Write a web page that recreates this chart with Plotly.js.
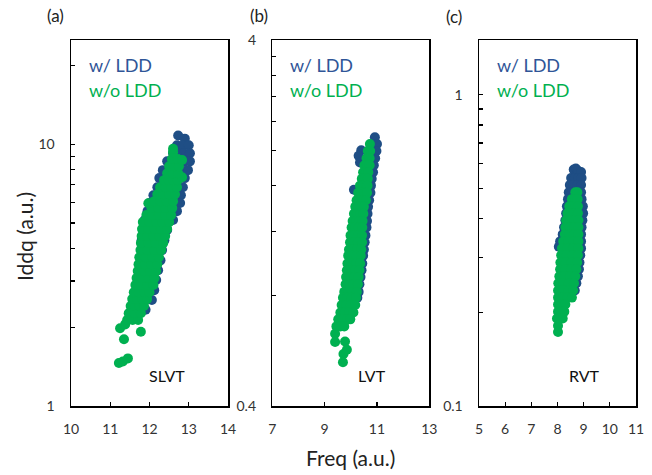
<!DOCTYPE html>
<html>
<head>
<meta charset="utf-8">
<script src="https://cdn.plot.ly/plotly-2.35.2.min.js"></script>
<style>html,body{margin:0;padding:0;background:#fff}#chart{width:652px;height:475px}</style>
</head>
<body>
<div id="chart"></div>
<script>
// Panel (a) SLVT — w/ LDD (blue)
const aBlueX = [12.73,12.9, 12.7,12.85,13.0, 12.6,12.74,12.88,13.03, 12.45,12.6,12.75,12.9,13.03,
  12.34,12.5,12.66,12.82,12.98, 12.25,12.41,12.57,12.73,12.9, 12.2,12.36,12.52,12.68,12.85,
  12.1,12.28,12.45,12.62,12.8, 12.0,12.2,12.4,12.59,12.78, 11.95,12.15,12.35,12.52,12.7,
  11.88,12.1,12.35,12.6, 11.83,12.05,12.45, 11.8,12.05,12.38, 11.8,12.05,12.32, 11.78,12.0,12.28,
  11.75,12.0,12.22, 11.72,11.95,12.17, 11.7,11.9,12.12, 11.68,11.88,12.06, 11.68,11.9];
const aBlueY = [10.8,10.5, 9.9,9.9,9.9, 9.24,9.24,9.24,9.24, 8.6,8.6,8.6,8.6,8.6,
  7.96,7.96,7.96,7.96,7.96, 7.42,7.42,7.42,7.42,7.42, 6.85,6.85,6.85,6.85,6.85,
  6.38,6.38,6.38,6.38,6.38, 5.96,5.96,5.96,5.96,5.96, 5.55,5.55,5.55,5.55,5.55,
  5.13,5.13,5.13,5.13, 4.7,4.7,4.7, 4.3,4.3,4.3, 3.94,3.94,3.94, 3.6,3.6,3.6,
  3.3,3.3,3.3, 3.03,3.03,3.03, 2.77,2.77,2.77, 2.54,2.54,2.54, 2.33,2.33];
// Panel (a) SLVT — w/o LDD (green)
const aGreenX = [11.22,11.32,11.45, 11.35,11.25,11.78,11.38,
  11.43,11.57,11.71, 11.47,11.62,11.78, 11.52,11.63,11.75,11.86, 11.56,11.69,11.82,11.94,
  11.6,11.73,11.87,12.0, 11.64,11.79,11.95,12.1, 11.67,11.82,11.98,12.13, 11.7,11.86,12.01,12.17,
  11.72,11.88,12.04,12.2, 11.74,11.9,12.07,12.24, 11.77,11.95,12.12,12.3, 11.78,11.97,12.16,12.35,
  11.8,11.95,12.1,12.25,12.4, 11.81,11.97,12.13,12.29,12.45, 11.83,12.0,12.17,12.33,12.5,
  11.92,12.08,12.24,12.4,12.55, 12.05,12.23,12.4,12.58, 11.97,12.12,12.28,12.44,12.6,
  12.2,12.35,12.5,12.65, 12.27,12.41,12.56,12.7, 12.37,12.49,12.61,12.72,12.83,
  12.45,12.59,12.73, 12.5,12.63,12.75, 12.57,12.72,12.83, 12.6,12.6];
const aGreenY = [1.46,1.48,1.52, 1.8,1.98,1.92,2.05,
  2.13,2.13,2.13, 2.26,2.26,2.26, 2.41,2.41,2.41,2.41, 2.56,2.56,2.56,2.56,
  2.72,2.72,2.72,2.72, 2.9,2.9,2.9,2.9, 3.08,3.08,3.08,3.08, 3.28,3.28,3.28,3.28,
  3.48,3.48,3.48,3.48, 3.7,3.7,3.7,3.7, 3.94,3.94,3.94,3.94, 4.19,4.19,4.19,4.19,
  4.46,4.46,4.46,4.46,4.46, 4.74,4.74,4.74,4.74,4.74, 5.04,5.04,5.04,5.04,5.04,
  5.36,5.36,5.36,5.36,5.36, 5.7,5.7,5.7,5.7, 5.95,6.06,6.06,6.06,6.06,
  6.44,6.44,6.44,6.44, 6.85,6.85,6.85,6.85, 7.29,7.29,7.29,7.29,7.48,
  7.75,7.75,7.75, 8.24,8.24,8.24, 8.77,8.77,8.7, 9.32,9.6];

// Panel (b) LVT — w/ LDD (blue)
const bBlueX = [10.92, 10.85,11.0, 10.4,10.8,10.98, 10.3,10.78,10.93, 10.35,10.72,10.88, 10.7,10.85, 10.68,10.8,
  10.7,10.77, 10.12, 10.75, 10.7, 10.66, 10.64, 10.62, 10.6, 10.56, 10.53, 10.5, 10.47, 10.44, 10.41, 10.37,
  10.33, 10.3, 10.25];
const bBlueY = [2.17, 2.08,2.08, 2.0,1.99,1.99, 1.93,1.9,1.9, 1.85,1.82,1.82, 1.74,1.74, 1.67,1.67,
  1.6,1.6, 1.56, 1.53, 1.46, 1.4, 1.34, 1.28, 1.23, 1.17, 1.12, 1.07, 1.03, 0.98, 0.94, 0.9,
  0.86, 0.82, 0.79];
// Panel (b) LVT — w/o LDD (green)
const bGreenX = [10.73, 10.65,10.74, 10.6,10.72, 10.52,10.62,10.72, 10.47,10.57,10.67, 10.42,10.53,10.65,
  10.35,10.47,10.6,10.64, 10.28,10.4,10.52,10.62, 10.22,10.35,10.47,10.58, 10.17,10.3,10.42,10.5,
  10.12,10.25,10.37,10.48, 10.07,10.2,10.32,10.45, 10.03,10.16,10.3,10.44, 9.99,10.13,10.28,10.43,
  9.97,10.12,10.27,10.43, 9.93,10.08,10.24,10.4, 9.9,10.06,10.22,10.38, 9.87,10.03,10.2,10.36,
  9.85,10.01,10.17,10.33, 9.82,9.98,10.14,10.3, 9.8,9.96,10.11,10.27, 9.75,9.91,10.07,10.23,
  9.7,9.87,10.03,10.2, 9.65,9.82,10.0,10.17, 9.6,9.77,9.94,10.1, 9.52,9.7,9.87,9.98, 9.45,9.6,9.75,
  9.4,9.4,9.78,9.85,9.72,9.7];
const bGreenY = [2.08, 1.99,1.99, 1.9,1.9, 1.82,1.82,1.82, 1.74,1.74,1.74, 1.67,1.67,1.67,
  1.6,1.6,1.6,1.6, 1.53,1.53,1.53,1.53, 1.46,1.46,1.46,1.46, 1.4,1.4,1.4,1.4,
  1.34,1.34,1.34,1.34, 1.28,1.28,1.28,1.28, 1.23,1.23,1.23,1.23, 1.17,1.17,1.17,1.17,
  1.12,1.12,1.12,1.12, 1.07,1.07,1.07,1.07, 1.03,1.03,1.03,1.03, 0.98,0.98,0.98,0.98,
  0.94,0.94,0.94,0.94, 0.9,0.9,0.9,0.9, 0.86,0.86,0.86,0.86, 0.82,0.82,0.82,0.82,
  0.79,0.79,0.79,0.79, 0.755,0.755,0.755,0.755, 0.72,0.72,0.72,0.72, 0.69,0.69,0.69,0.69, 0.66,0.66,0.66,
  0.598,0.63,0.6,0.57,0.555,0.527];

// Panel (c) RVT — w/ LDD (blue)
const cBlueX = [8.62,8.7,8.78,8.9, 8.52,8.66,8.8,8.92, 8.47,8.6,8.75,8.9, 8.43,8.55,8.9, 8.4,8.92, 8.36,8.97,
  8.33,8.98, 8.3,8.95, 8.25,8.92, 8.2,8.9, 8.1,8.9, 8.05, 8.9, 8.87, 8.84, 8.82, 8.78, 8.72, 8.66];
const cBlueY = [0.575,0.58,0.57,0.565, 0.54,0.54,0.54,0.54, 0.513,0.513,0.513,0.513, 0.486,0.486,0.486, 0.462,0.462, 0.438,0.438,
  0.416,0.416, 0.395,0.395, 0.375,0.375, 0.356,0.356, 0.338,0.338, 0.325, 0.321, 0.305, 0.289, 0.275, 0.261, 0.248, 0.235];
// Panel (c) RVT — w/o LDD (green)
const cGreenX = [8.68,8.76, 8.55,8.66,8.77, 8.45,8.56,8.67,8.78, 8.38,8.5,8.64,8.78, 8.33,8.49,8.65,8.8,
  8.3,8.47,8.64,8.8, 8.28,8.46,8.63,8.8, 8.22,8.42,8.61,8.8, 8.17,8.38,8.59,8.8, 8.14,8.35,8.57,8.78,
  8.11,8.32,8.54,8.75, 8.1,8.31,8.52,8.72, 8.07,8.27,8.48,8.68, 8.03,8.23,8.43,8.63, 8.02,8.22,8.42,8.6,
  8.02,8.2,8.38,8.55, 8.02,8.16,8.3, 8.02,8.14,8.26, 7.98,8.1,8.2, 8.02, 8.02];
const cGreenY = [0.486,0.486, 0.462,0.462,0.462, 0.438,0.438,0.438,0.438, 0.416,0.416,0.416,0.416, 0.395,0.395,0.395,0.395,
  0.375,0.375,0.375,0.375, 0.356,0.356,0.356,0.356, 0.338,0.338,0.338,0.338, 0.321,0.321,0.321,0.321, 0.305,0.305,0.305,0.305,
  0.289,0.289,0.289,0.289, 0.275,0.275,0.275,0.275, 0.261,0.261,0.261,0.261, 0.248,0.248,0.248,0.248, 0.235,0.235,0.235,0.235,
  0.223,0.223,0.223,0.223, 0.212,0.212,0.212, 0.201,0.201,0.201, 0.191,0.191,0.191, 0.181, 0.173];

const panelLabels = ['(a)','(b)','(c)'];
const vtLabels = ['SLVT','LVT','RVT'];
const seriesNames = ['w/ LDD','w/o LDD'];

const BLUE = '#1f4e85', GREEN = '#00b050';
const FONT = 'Lato, "Open Sans", sans-serif';
const W = 652, H = 475;
const px = v => v / W, py = v => 1 - v / H;

function sc(x, y, xa, ya, color) {
  return {type:'scatter', mode:'markers', x:x, y:y, xaxis:xa, yaxis:ya,
    marker:{color:color, size:10, line:{width:0}}, hoverinfo:'skip', showlegend:false};
}
const data = [
  sc(aBlueX,aBlueY,'x','y',BLUE), sc(aGreenX,aGreenY,'x','y',GREEN),
  sc(bBlueX,bBlueY,'x2','y2',BLUE), sc(bGreenX,bGreenY,'x2','y2',GREEN),
  sc(cBlueX,cBlueY,'x3','y3',BLUE), sc(cGreenX,cGreenY,'x3','y3',GREEN)
];

const yDom = [py(406), py(40)];
function xax(l, r, range, ticks, anchor) {
  return {domain:[px(l),px(r)], range:range, anchor:anchor, tickmode:'array', tickvals:ticks,
    ticktext:ticks.map(String), ticks:'inside', ticklen:4, tickwidth:1.2, tickcolor:'#000',
    showline:true, mirror:true, linecolor:'#000', linewidth:1.5, showgrid:false, zeroline:false,
    ticklabelstandoff:10, tickfont:{family:FONT, size:14, color:'#333'}, fixedrange:true};
}
function yax(range, major, majorText, minor, anchor) {
  return {domain:yDom, type:'log', range:range, anchor:anchor, tickmode:'array', tickvals:major,
    ticktext:majorText, ticks:'inside', ticklen:4, tickwidth:1.2, tickcolor:'#000',
    minor:{tickmode:'array', tickvals:minor, ticks:'inside', ticklen:4, tickwidth:1.2, tickcolor:'#000', showgrid:false},
    showline:true, mirror:true, linecolor:'#000', linewidth:1.5, showgrid:false, zeroline:false,
    ticklabelstandoff:12, tickfont:{family:FONT, size:14, color:'#333'}, fixedrange:true};
}

const annotations = [];
function ann(text, x, y, size, color, extra) {
  annotations.push(Object.assign({text:text, xref:'paper', yref:'paper', x:px(x), y:py(y),
    xanchor:'center', yanchor:'middle', showarrow:false, font:{family:FONT, size:size, color:color}}, extra||{}));
}
ann(panelLabels[0], 55, 16, 17, '#222');
ann(panelLabels[1], 259, 16, 17, '#222');
ann(panelLabels[2], 454, 17, 17, '#222');
[87, 288, 495].forEach(function(x0){
  ann(seriesNames[0], x0, 65, 18, '#2f5597', {xanchor:'left'});
  ann(seriesNames[1], x0, 90, 18, GREEN, {xanchor:'left'});
});
ann(vtLabels[0], 167, 375, 16, '#111');
ann(vtLabels[1], 372, 375, 16, '#111');
ann(vtLabels[2], 584, 375, 16, '#111');
ann('Iddq (a.u.)', 25, 237, 21, '#222', {textangle:-90});
ann('Freq (a.u.)', 350, 457, 21, '#222');

const layout = {
  width:W, height:H, margin:{l:0,r:0,t:0,b:0}, paper_bgcolor:'#fff', plot_bgcolor:'#fff',
  showlegend:false, font:{family:FONT},
  xaxis: xax(71, 228, [10,14], [10,11,12,13,14], 'y'),
  yaxis: yax([0, Math.log10(25)], [1,10], ['1','10'], [2,3,4,5,6,7,8,9,20], 'x'),
  xaxis2: xax(272.3, 429.3, [7,13], [7,9,11,13], 'y2'),
  yaxis2: yax([Math.log10(0.4), Math.log10(4)], [0.4,4], ['0.4','4'], [0.8,1.2,1.6,2,2.4,2.8,3.2,3.6], 'x2'),
  xaxis3: xax(479, 636, [5,11], [5,6,7,8,9,10,11], 'y3'),
  yaxis3: yax([-1, Math.log10(1.5)], [0.1,1], ['0.1','1'], [0.2,0.3,0.4,0.5,0.6,0.7,0.8,0.9], 'x3'),
  annotations: annotations
};
Plotly.newPlot('chart', data, layout, {displayModeBar:false, staticPlot:true});
</script>
</body>
</html>
